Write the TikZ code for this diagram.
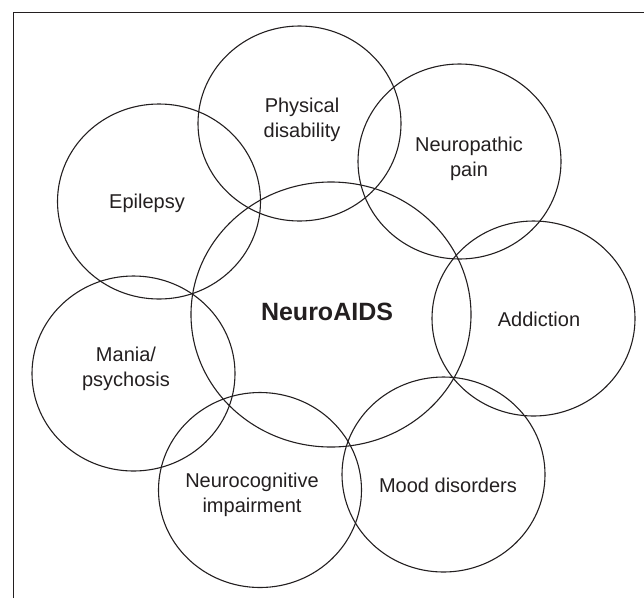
\documentclass[tikz,border=0pt]{standalone}
\usepackage{fontspec}
\setmainfont{Liberation Sans}
\usetikzlibrary{shapes.geometric}
\definecolor{ink}{HTML}{231F20}
\tikzset{
  ring/.style={ellipse, draw=ink, line width=1.1pt, inner sep=0pt, minimum width=#1*2.03pt, minimum height=#1*1.95pt},
  ring/.default=100,
  lbl/.style={text=ink, align=center, font=\fontsize{20}{25}\selectfont, inner sep=0pt},
  frameline/.style={draw=ink, line width=1pt}
}
\begin{document}
\begin{tikzpicture}[x=1pt, y=-1pt]
\useasboundingbox (0,0) rectangle (644,598);
% frame
\coordinate (fbl) at (13.5,598);
\coordinate (ftl) at (13.5,12.5);
\coordinate (ftr) at (644,12.5);
\draw[frameline] (fbl) -- (ftl) -- (ftr);
% circles
\node[ring] (cphys) at (299.5,123.5) {};
\node[ring] (cneur) at (459.5,161.5) {};
\node[ring] (cepi)  at (159,201.5) {};
\node[ring] (cadd)  at (533.5,318.5) {};
\node[ring] (cman)  at (133.5,373.5) {};
\node[ring] (ccog)  at (260,490) {};
\node[ring] (cmood) at (443.5,474.5) {};
\node[ellipse, draw=ink, line width=1.1pt, inner sep=0pt, minimum width=280pt, minimum height=265pt] (cmain) at (331,314.5) {};
% labels
\node[lbl] (tphys) at (302,120) {Physical\\disability};
\node[lbl] (tneur) at (469,159) {Neuropathic\\pain};
\node[lbl] (tepi)  at (147,203) {Epilepsy};
\node[lbl] (tadd)  at (539,319) {Addiction};
\node[lbl] (tman)  at (126,369) {Mania/\\psychosis};
\node[lbl] (tcog)  at (252,495) {Neurocognitive\\impairment};
\node[lbl] (tmood) at (448,485) {Mood disorders};
\node[lbl, font=\fontsize{25}{30}\selectfont\bfseries] (tmain) at (327,312) {NeuroAIDS};
\end{tikzpicture}
\end{document}
